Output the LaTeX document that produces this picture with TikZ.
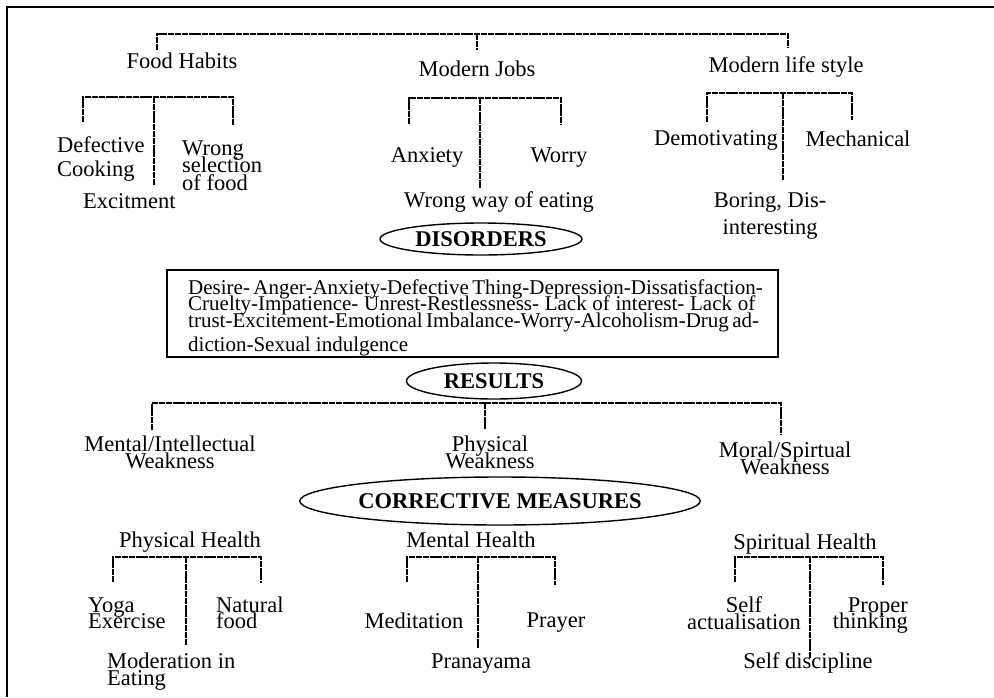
\documentclass[tikz,border=0pt]{standalone}
\usepackage{fontspec}
\setmainfont{Liberation Serif}
\usetikzlibrary{shapes.geometric}
\newcommand\fsz[2]{\fontsize{#1}{#2}\selectfont\lineskiplimit=-100pt\relax}
\tikzset{
  br/.style={line width=1.3pt, dash pattern=on 6pt off 0.8pt},
  lbl/.style={inner sep=0pt, font=\fsz{22.5}{17}},
  oval/.style={ellipse, draw, line width=1.4pt, inner sep=0pt, font=\bfseries\fontsize{22.5}{24}\selectfont},
  framebox/.style={draw, line width=1.3pt, inner sep=0pt},
}
\begin{document}
\begin{tikzpicture}[x=1pt,y=-1pt]
\useasboundingbox (0,0) rectangle (994,697);
\draw[line width=1.5pt] (994,7) -- (7,7) -- (7,697);

% ---- top level
\node[lbl,anchor=base] (fh) at (182,68) {Food Habits};
\node[lbl,anchor=base] (mj) at (477,76) {Modern Jobs};
\node[lbl,anchor=base] (ml) at (786,72) {Modern life style};

\coordinate (tL) at (157,50);
\coordinate (tM) at (477,50);
\coordinate (tR) at (788,48);
\draw[br] (tL) -- (157,34) -- (788,34) -- (tR);
\draw[br] (477,34) -- (tM);

% ---- food habits
\node[lbl,anchor=base west,align=left,font=\fsz{22.5}{24}] (dc) at (57,176) {Defective\\Cooking};
\node[lbl,anchor=base west,align=left,font=\fsz{22.5}{17.5}] (ws) at (182,190) {Wrong\\selection\\of food};
\node[lbl,anchor=base west] (ex) at (83,208) {Excitment};
\coordinate (fhL) at (83,122);
\coordinate (fhM) at (154,185);
\coordinate (fhR) at (233,125);
\draw[br] (fhL) -- (83,97) -- (233,97) -- (fhR);
\draw[br] (154,97) -- (fhM);

% ---- modern jobs
\node[lbl,anchor=base] (an) at (427,162) {Anxiety};
\node[lbl,anchor=base] (wo) at (559,162) {Worry};
\node[lbl,anchor=base] (we) at (499,207) {Wrong way of eating};
\coordinate (mjL) at (409,124);
\coordinate (mjM) at (480,188);
\coordinate (mjR) at (561,125);
\draw[br] (mjL) -- (409,98) -- (561,98) -- (mjR);
\draw[br] (480,98) -- (mjM);

% ---- modern life style
\node[lbl,anchor=base] (de) at (716,145) {Demotivating};
\node[lbl,anchor=base] (me) at (858,146) {Mechanical};
\node[lbl,anchor=base,align=center,font=\fsz{22.5}{27}] (bo) at (770,234) {Boring, Dis-\\interesting};
\coordinate (mlL) at (707,122);
\coordinate (mlM) at (783,180);
\coordinate (mlR) at (852,120);
\draw[br] (mlL) -- (707,93) -- (852,93) -- (mlR);
\draw[br] (783,93) -- (mlM);

% ---- disorders
\node[oval,minimum width=202pt,minimum height=32pt] (dis) at (481,239) {DISORDERS};
\node[framebox,minimum width=611pt,minimum height=87pt] (bx) at (472.5,313.5) {};
\node[anchor=base west,inner sep=0pt,align=left,font=\fsz{21}{16.5}] (bt) at (188,351)
 {\makebox[567pt][s]{Desire- Anger-Anxiety-Defective Thing-Depression-Dissatisfaction-}\\
  \makebox[567pt][s]{Cruelty-Impatience- Unrest-Restlessness- Lack of interest- Lack of}\\
  \makebox[567pt][s]{trust-Excitement-Emotional Imbalance-Worry-Alcoholism-Drug ad-}\\[7.5pt]
  diction-Sexual indulgence};

% ---- results
\node[oval,minimum width=175pt,minimum height=36pt] (res) at (494,381) {RESULTS};
\node[lbl,anchor=base,align=center] (mi) at (170,468) {Mental/Intellectual\\Weakness};
\node[lbl,anchor=base,align=center] (pw) at (490,468) {Physical\\Weakness};
\node[lbl,anchor=base,align=center] (mo) at (785,474) {Moral/Spirtual\\Weakness};
\coordinate (rL) at (152,430);
\coordinate (rM) at (485,430);
\coordinate (rR) at (781,434);
\draw[br] (rL) -- (152,403) -- (781,403) -- (rR);
\draw[br] (485,403) -- (rM);

% ---- corrective measures
\node[oval,minimum width=351pt,minimum height=48pt] (cm) at (500,501) {CORRECTIVE MEASURES};

\node[lbl,anchor=base] (ph) at (190,547) {Physical Health};
\node[lbl,anchor=base] (mh) at (471,547) {Mental Health};
\node[lbl,anchor=base] (sh) at (805,549) {Spiritual Health};

\node[lbl,anchor=base west,align=left,font=\fsz{22.5}{16}] (yo) at (88,628) {Yoga\\Exercise};
\node[lbl,anchor=base west,align=left,font=\fsz{22.5}{16}] (nf) at (216,628) {Natural\\food};
\node[lbl,anchor=base west,align=left] (mod) at (107,685) {Moderation in\\Eating};
\coordinate (phL) at (113,582);
\coordinate (phM) at (186,645);
\coordinate (phR) at (261,583);
\draw[br] (phL) -- (113,557) -- (261,557) -- (phR);
\draw[br] (186,557) -- (phM);

\node[lbl,anchor=base] (med) at (414,628) {Meditation};
\node[lbl,anchor=base] (pr) at (556,627) {Prayer};
\node[lbl,anchor=base] (pra) at (481,668) {Pranayama};
\coordinate (mhL) at (407,582);
\coordinate (mhM) at (478,648);
\coordinate (mhR) at (555,585);
\draw[br] (mhL) -- (407,557) -- (555,557) -- (mhR);
\draw[br] (478,557) -- (mhM);

\node[lbl,anchor=base,align=center,font=\fsz{22.5}{16.5}] (sa) at (744,629) {Self\\actualisation};
\node[lbl,anchor=base east,align=right,font=\fsz{22.5}{16}] (pt) at (908,628) {Proper\\thinking};
\node[lbl,anchor=base] (sd) at (808,668) {Self discipline};
\coordinate (shL) at (735,582);
\coordinate (shM) at (810,658);
\coordinate (shR) at (883,585);
\draw[br] (shL) -- (735,557) -- (883,557) -- (shR);
\draw[br] (810,557) -- (shM);
\end{tikzpicture}
\end{document}
